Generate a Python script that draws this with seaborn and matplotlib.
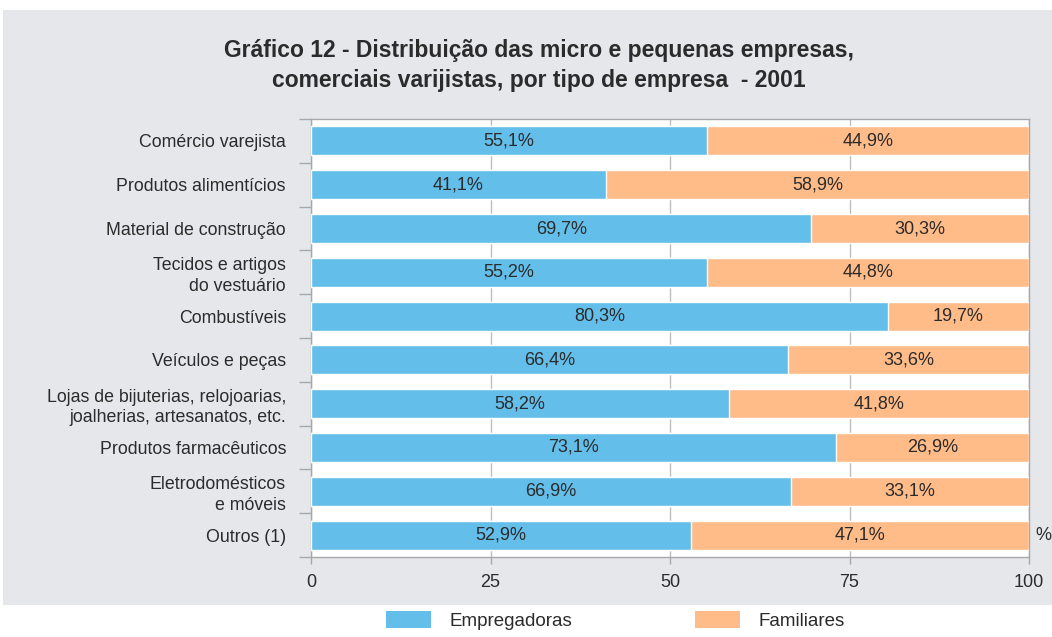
import numpy as np
import pandas as pd
import matplotlib
matplotlib.use('Agg')
import matplotlib.pyplot as plt
from matplotlib.patches import Rectangle, Patch
import seaborn as sns

# ── Data ─────────────────────────────────────────────────────────────────────
categories = [
    'Comércio varejista',
    'Produtos alimentícios',
    'Material de construção',
    'Tecidos e artigos\ndo vestuário',
    'Combustíveis',
    'Veículos e peças',
    'Lojas de bijuterias, relojoarias,\njoalherias, artesanatos, etc.',
    'Produtos farmacêuticos',
    'Eletrodomésticos\ne móveis',
    'Outros (1)',
]
empregadoras = [55.1, 41.1, 69.7, 55.2, 80.3, 66.4, 58.2, 73.1, 66.9, 52.9]
familiares = [44.9, 58.9, 30.3, 44.8, 19.7, 33.6, 41.8, 26.9, 33.1, 47.1]
x_ticks = [0, 25, 50, 75, 100]

BLUE = '#63BEEA'
ORANGE = '#FFBB88'
PANEL = '#E6E7EB'
TEXT = '#2b2b2b'
SPINE = '#A8A8A8'

df = pd.DataFrame({'categoria': categories,
                   'emp': empregadoras,
                   'fam': familiares})
df['total'] = df['emp'] + df['fam']

sns.set_style('white')
plt.rcParams['font.family'] = ['Liberation Sans', 'DejaVu Sans']

fig = plt.figure(figsize=(10.52, 6.37), dpi=100)
fig.patch.set_facecolor('white')
fig.patches.append(Rectangle((3 / 1052, 1 - 605 / 637), 1 - 3 / 1052, (605 - 10) / 637,
                             transform=fig.transFigure, facecolor=PANEL,
                             edgecolor='none', zorder=-10))

ax = fig.add_axes([311 / 1052, 1 - 557 / 637, (1029 - 311) / 1052, (557 - 119) / 637])
ax.set_zorder(1)
ax.set_facecolor('white')

# stacked bars: total in orange, empregadoras on top in blue
sns.barplot(data=df, y='categoria', x='total', color=ORANGE, orient='h',
            width=0.66, saturation=1, ax=ax, zorder=3)
sns.barplot(data=df, y='categoria', x='emp', color=BLUE, orient='h',
            width=0.66, saturation=1, ax=ax, zorder=3)

for i, (e, f) in enumerate(zip(empregadoras, familiares)):
    ax.text(e / 2, i, f'{e:.1f}%'.replace('.', ','), ha='center', va='center',
            fontsize=13, color=TEXT, zorder=5)
    ax.text(e + f / 2, i, f'{f:.1f}%'.replace('.', ','), ha='center', va='center',
            fontsize=13, color=TEXT, zorder=5)

ax.set_xlim(0, 100)
ax.set_ylim(len(categories) - 0.5, -0.5)
ax.set_xticks(x_ticks)
ax.set_xticklabels([str(t) for t in x_ticks], fontsize=13, color=TEXT)
ax.tick_params(axis='x', length=5, width=1, color=SPINE, pad=7, bottom=True)
ax.set_yticks(range(len(categories)))
ax.set_yticklabels(categories, fontsize=12.8, color=TEXT, linespacing=1.25)
ax.tick_params(axis='y', length=0, pad=18)
ax.set_yticks(np.arange(-0.5, len(categories), 1), minor=True)
ax.tick_params(axis='y', which='minor', length=9, width=1, color=SPINE, left=True)
ax.set_xlabel('')
ax.set_ylabel('')

ax.grid(axis='x', color='#BDBDBD', linewidth=1, zorder=0)
ax.set_axisbelow(True)
for s in ax.spines.values():
    s.set_visible(True)
    s.set_color(SPINE)
    s.set_linewidth(1)

ax.text(1.009, len(categories) - 1, '%', transform=ax.get_yaxis_transform(),
        ha='left', va='center', fontsize=13, color=TEXT)

title_font = ['Liberation Sans Narrow', 'Liberation Sans', 'DejaVu Sans']
fig.text(0.512, 1 - 50 / 637, 'Gráfico 12 - Distribuição das micro e pequenas empresas,',
         ha='center', va='center', fontsize=16.5, fontweight='bold', color=TEXT,
         family=title_font)
fig.text(0.512, 1 - 80 / 637, 'comerciais varijistas, por tipo de empresa  - 2001',
         ha='center', va='center', fontsize=16.5, fontweight='bold', color=TEXT,
         family=title_font)

handles = [Patch(facecolor=BLUE, edgecolor='none', label='Empregadoras'),
           Patch(facecolor=ORANGE, edgecolor='none', label='Familiares')]
fig.legend(handles=handles, loc='upper center', bbox_to_anchor=(0.585, 1 - 609 / 637),
           ncol=2, frameon=False, fontsize=13.5, handlelength=2.4, handleheight=1.0,
           columnspacing=6.5, handletextpad=1.0, labelcolor=TEXT,
           borderaxespad=0, borderpad=0.1)

fig.savefig('out.png', dpi=100)
